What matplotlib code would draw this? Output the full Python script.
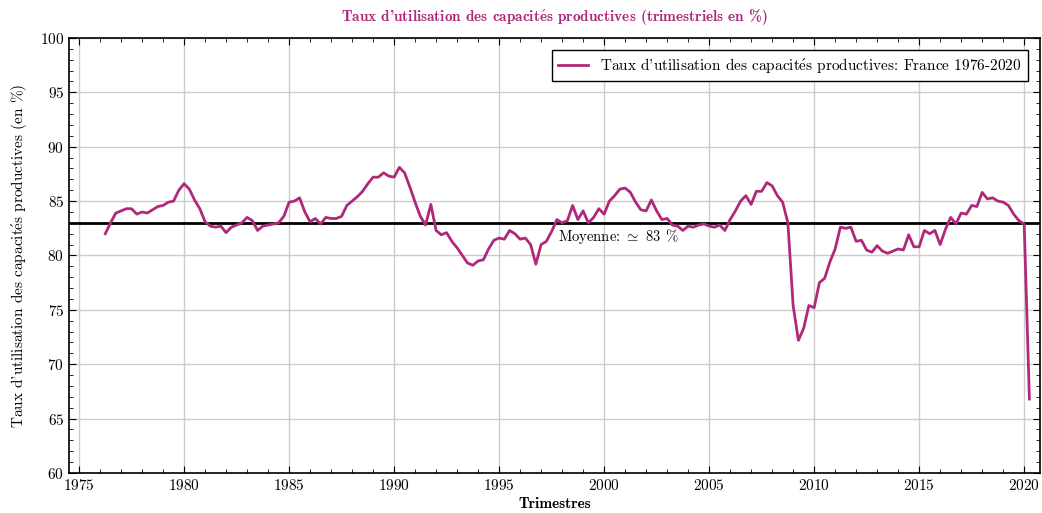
import numpy as np
import matplotlib
matplotlib.use("Agg")
from matplotlib import pyplot as plt
from matplotlib.ticker import MultipleLocator

plt.rcParams['font.family'] = ['cmr10', 'DejaVu Serif']
plt.rcParams['mathtext.fontset'] = 'cm'
plt.rcParams['axes.formatter.use_mathtext'] = True

# TUC France, trimestriel, 1976T2 -> 2020T2
start_year = 1976.25
tuc = [
    82.0, 83.0, 83.9,
    84.1, 84.3, 84.3, 83.8,
    84.0, 83.9, 84.2, 84.5,
    84.6, 84.9, 85.0, 86.0,
    86.6, 86.1, 85.1, 84.3,
    83.1, 82.7, 82.6, 82.7,
    82.1, 82.6, 82.8, 83.0,
    83.5, 83.2, 82.3, 82.7,
    82.8, 82.9, 83.0, 83.6,
    84.9, 85.0, 85.3, 84.0,
    83.1, 83.4, 82.9, 83.5,
    83.4, 83.4, 83.6, 84.6,
    85.0, 85.4, 85.9, 86.6,
    87.2, 87.2, 87.6, 87.3,
    87.2, 88.1, 87.6, 86.3,
    84.9, 83.6, 82.8, 84.7,
    82.3, 81.9, 82.1, 81.3,
    80.7, 80.0, 79.3, 79.1,
    79.5, 79.6, 80.6, 81.4,
    81.6, 81.5, 82.3, 82.0,
    81.5, 81.6, 81.0, 79.2,
    81.0, 81.3, 82.2, 83.3,
    83.0, 83.2, 84.6, 83.3,
    84.1, 83.0, 83.5, 84.3,
    83.8, 85.0, 85.5, 86.1,
    86.2, 85.8, 84.9, 84.2,
    84.1, 85.1, 84.1, 83.3,
    83.4, 82.8, 82.7, 82.3,
    82.7, 82.6, 82.8, 82.9,
    82.7, 82.6, 82.8, 82.3,
    83.3, 84.1, 85.0, 85.5,
    84.7, 85.9, 85.9, 86.7,
    86.4, 85.5, 84.9, 83.0,
    75.4, 72.2, 73.3, 75.4,
    75.2, 77.5, 77.9, 79.4,
    80.6, 82.6, 82.5, 82.6,
    81.3, 81.4, 80.5, 80.3,
    80.9, 80.4, 80.2, 80.4,
    80.6, 80.5, 81.9, 80.8,
    80.8, 82.3, 82.0, 82.3,
    81.0, 82.4, 83.5, 82.9,
    83.9, 83.8, 84.6, 84.5,
    85.8, 85.2, 85.3, 85.0,
    84.9, 84.6, 83.8, 83.2,
    82.9, 66.8,
]
moyenne = 83
trimestres = start_year + 0.25 * np.arange(len(tuc))

couleur = '#B0287A'
gras = ['cmb10', 'DejaVu Serif']
# accent et apostrophe passent par mathtext (glyphes absents de cmr10)
e_aigu = r"$\mathrm{\acute{e}}$"
e_aigu_gras = r"$\mathbf{\acute{e}}$"
tuc_txt = "Taux d'utilisation des capacit" + e_aigu + "s productives"

fig = plt.figure(figsize=(10.42, 5.13), dpi=100)
ax = fig.add_axes([0.0662, 0.078, 0.932, 0.848])

ax.plot(trimestres, tuc, color=couleur, lw=2,
        label=tuc_txt + ": France 1976-2020", zorder=3)
ax.axhline(moyenne, color='black', lw=2, zorder=2)
ax.text(1997.8, moyenne - 0.35, r"Moyenne: $\simeq$ 83 %", fontsize=10.5,
        va='top', ha='left')

ax.set_xlim(1974.52, 2020.76)
ax.set_ylim(60, 100)
ax.xaxis.set_major_locator(MultipleLocator(5))
ax.xaxis.set_minor_locator(MultipleLocator(1))
ax.yaxis.set_major_locator(MultipleLocator(5))
ax.yaxis.set_minor_locator(MultipleLocator(1))
ax.tick_params(which='both', direction='in', top=True, right=True, labelsize=11)
ax.tick_params(which='major', length=5)
ax.tick_params(which='minor', length=3)
ax.grid(True, which='major', color='#cccccc', lw=1, zorder=0)
for s in ax.spines.values():
    s.set_linewidth(1.2)

ax.set_xlabel("Trimestres", fontsize=11, family=gras, labelpad=3)
ax.set_ylabel(tuc_txt + " (en %)", fontsize=11, labelpad=8)
ax.set_title("Taux d'utilisation des capacit" + e_aigu_gras + "s productives (trimestriels en %)",
             color=couleur, fontsize=11, family=gras, pad=12)

leg = ax.legend(loc='upper right', fontsize=11, fancybox=False, framealpha=1,
                edgecolor='black', borderaxespad=0.8)
leg.get_frame().set_linewidth(1)

fig.savefig("out.png", dpi=100)
